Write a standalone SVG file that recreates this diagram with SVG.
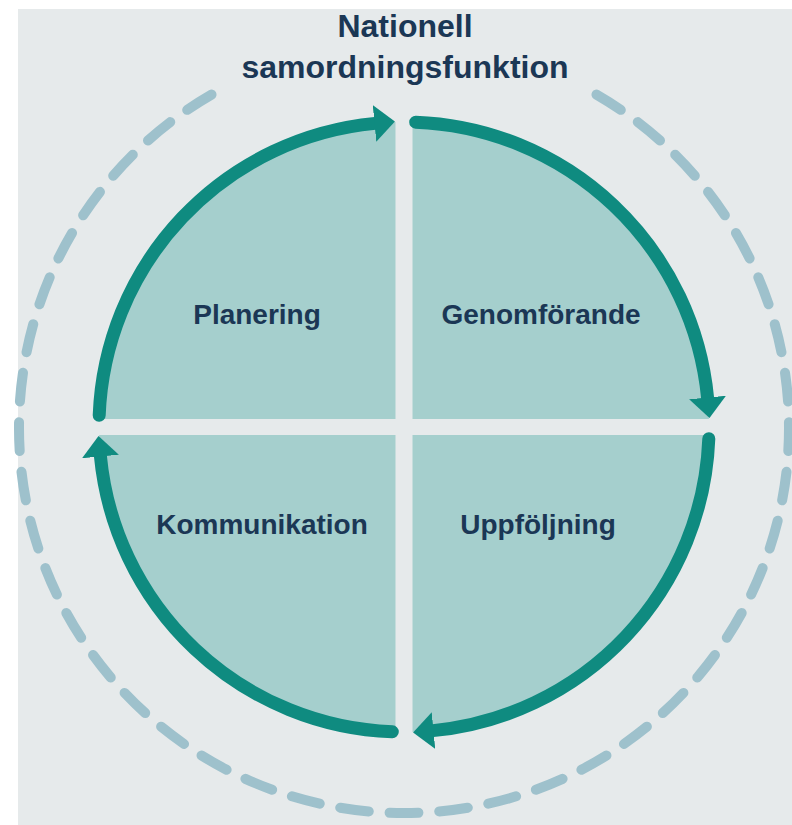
<svg xmlns="http://www.w3.org/2000/svg" width="792" height="825" viewBox="0 0 792 825">
  <style>
    .quad { fill: #a5cfcd; }
    .label { font-family: "Liberation Sans", Arial, sans-serif; font-weight: bold; font-size: 28px; fill: #1b3755; text-anchor: middle; }
    .title { font-family: "Liberation Sans", Arial, sans-serif; font-weight: bold; font-size: 32px; fill: #1b3755; text-anchor: middle; }
    .arc { fill: none; stroke: #0f8b80; stroke-width: 13; stroke-linecap: round; marker-end: url(#head); }
    .dash { fill: none; stroke: #9ec1cc; stroke-width: 10; stroke-linecap: round; stroke-dasharray: 29 21; }
  </style>
  <defs>
    <marker id="head" markerUnits="userSpaceOnUse" viewBox="0 -19 21 38" markerWidth="21" markerHeight="38" refX="0.5" refY="0" orient="auto">
      <path d="M0,-18.5 L20.5,0 L0,18.5 Z" fill="#0f8b80"/>
    </marker>
  </defs>

  <rect x="18" y="9" width="774" height="816" fill="#e6eaeb"/>

  <g id="outer-ring">
    <path class="dash" pathLength="2029" d="M596.5,94.6 A385,385 0 1 1 211.5,94.6"/>
  </g>

  <g id="title">
    <text class="title" x="405" y="37">Nationell</text>
    <text class="title" x="405" y="78">samordningsfunktion</text>
  </g>

  <g id="planering">
    <path class="quad" d="M395.5,419 L99.1,419 A305,305 0 0 1 395.5,122.1 Z"/>
    <text class="label" x="257" y="324">Planering</text>
  </g>
  <g id="genomforande">
    <path class="quad" d="M412.5,419 L412.5,122.1 A305,305 0 0 1 708.9,419 Z"/>
    <text class="label" x="541" y="324">Genomförande</text>
  </g>
  <g id="uppfoljning">
    <path class="quad" d="M412.5,435 L708.9,435 A305,305 0 0 1 412.5,731.9 Z"/>
    <text class="label" x="538" y="534">Uppföljning</text>
  </g>
  <g id="kommunikation">
    <path class="quad" d="M395.5,435 L395.5,731.9 A305,305 0 0 1 99.1,435 Z"/>
    <text class="label" x="262" y="534">Kommunikation</text>
  </g>

  <g id="connectors">
    <path class="arc" d="M99.2,415.3 A305,305 0 0 1 375.0,123.4"/>
    <path class="arc" d="M415.7,122.2 A305,305 0 0 1 707.6,398.0"/>
    <path class="arc" d="M708.8,438.7 A305,305 0 0 1 433.0,730.6"/>
    <path class="arc" d="M392.3,731.8 A305,305 0 0 1 100.4,456.0"/>
  </g>
</svg>
